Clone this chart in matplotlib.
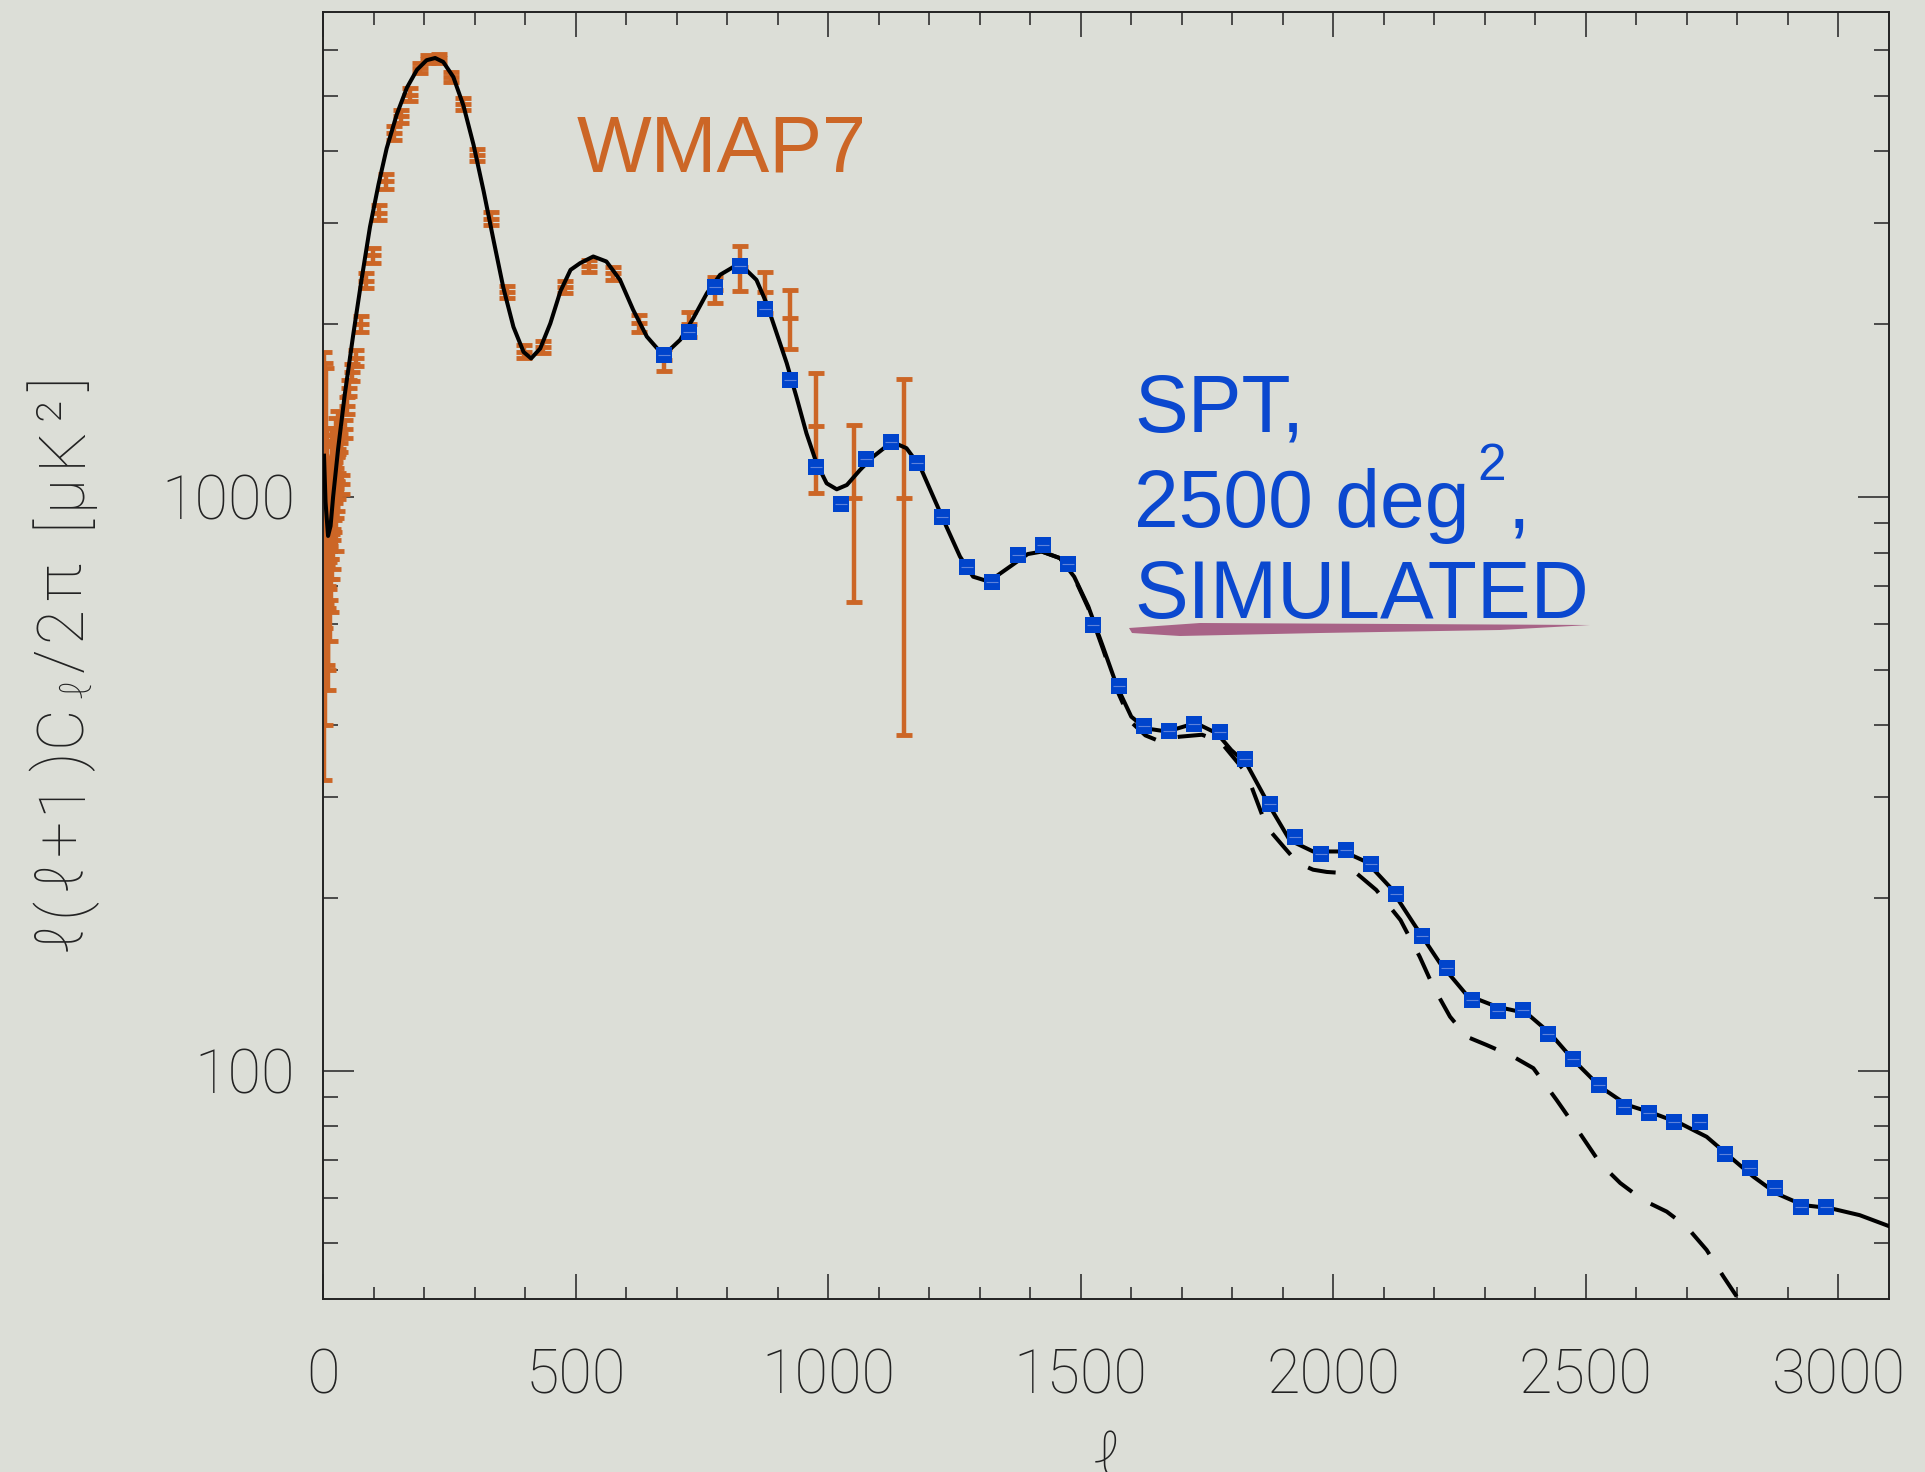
import matplotlib
matplotlib.use('Agg')
import matplotlib.pyplot as plt
from matplotlib import font_manager as fm
from matplotlib.ticker import FixedLocator, FixedFormatter, NullFormatter
from matplotlib.patches import Polygon

# ---- data ----
# theory curve (solid)
theory_ell = [2, 5, 10, 15, 20, 30, 43, 60, 76, 93, 110, 126, 146, 166, 186, 205, 222,
              238, 258, 278, 298, 318, 338, 357, 377, 397, 412, 430, 450, 470, 490, 509,
              535, 561, 588, 614, 641, 667, 680, 707, 733, 760, 786, 812, 832, 858, 878,
              898, 918, 937, 957, 977, 997, 1017, 1037, 1063, 1089, 1116, 1132, 1155,
              1182, 1208, 1234, 1261, 1287, 1318, 1360, 1395, 1423, 1459, 1487, 1515,
              1544, 1572, 1600, 1628, 1671, 1713, 1734, 1770, 1798, 1828, 1874, 1914,
              1960, 2020, 2066, 2112, 2158, 2211, 2264, 2323, 2383, 2429, 2475, 2528,
              2581, 2633, 2686, 2739, 2785, 2831, 2877, 2930, 2983, 3042, 3102]
theory_dl = [1180, 980, 855, 890, 1000, 1214, 1506, 1921, 2383, 2955, 3508, 4049, 4640,
             5164, 5551, 5768, 5820, 5729, 5393, 4808, 4108, 3410, 2790, 2315, 1978, 1789,
             1743, 1814, 2006, 2283, 2487, 2555, 2624, 2572, 2389, 2118, 1903, 1792, 1784,
             1878, 2048, 2265, 2438, 2515, 2515, 2389, 2176, 1929, 1710, 1496, 1291, 1145,
             1056, 1031, 1049, 1114, 1175, 1227, 1241, 1216, 1129, 1001, 888, 787, 726,
             712, 756, 795, 803, 782, 726, 644, 548, 467, 414, 395, 390, 400, 401, 387,
             362, 343, 289, 252, 241, 241, 231, 209, 181, 154, 135.5, 129.3, 125.9, 116.2,
             104.4, 93.8, 87.2, 84.3, 81.0, 76.7, 70.8, 65.4, 61.1, 58.3, 57.6, 56.0, 53.5]

# second model (dashed), only where it leaves the solid one
dashed_ell = [1423, 1459, 1487, 1515, 1544, 1572, 1600, 1628, 1650, 1696, 1740, 1776,
              1828, 1868, 1901, 1930, 1960, 1987, 2020, 2046, 2085, 2133, 2171, 2198,
              2231, 2264, 2303, 2356, 2396, 2442, 2488, 2528, 2568, 2613, 2660, 2699,
              2739, 2772, 2801, 2820]
dashed_dl = [803, 782, 724, 640, 543, 460, 405, 384, 377, 382, 385, 375, 330, 266, 246,
             230, 224, 222, 221, 220.8, 206.5, 183, 158, 140, 124.2, 114.6, 110.9, 105.8,
             101, 88.9, 77.8, 69.0, 63.7, 59.5, 56.8, 53.5, 48.7, 43.8, 40.1, 37]

# WMAP7 band powers
wmap_ell = [2, 3, 4, 5, 6, 7, 8, 9, 10, 11, 12, 13, 14, 15, 16, 17, 18, 19, 20, 21, 22,
            23, 24, 25, 26, 27, 28, 29, 30,
            33, 37, 43, 48, 52, 58, 65, 76, 86, 98, 111, 124, 141, 154, 172, 192, 207,
            229, 253, 278, 304, 332, 364, 397, 436, 479, 526, 575, 626, 676, 725, 776,
            825, 875, 924, 976, 1051, 1151]
wmap_dl = [1055, 1150, 820, 1320, 940, 760, 1080, 700, 640, 880, 950, 720, 820, 780, 930,
           1120, 860, 980, 880, 1040, 1000, 1150, 1100, 920, 1250, 1060, 1180, 1100, 1300,
           1241, 1052, 1314, 1442, 1549, 1650, 1749, 2004, 2383, 2636, 3127, 3548, 4315,
           4603, 5025, 5587, 5790, 5810, 5393, 4842, 3945, 3055, 2275, 1792, 1828, 2321,
           2527, 2455, 2008, 1733, 2000, 2297, 2513, 2280, 2053, 1331, 995, 995]
wmap_err = [734, 560, 420, 360, 290, 250, 240, 200, 180, 190, 180, 160, 160, 150, 150,
            160, 140, 140, 130, 130, 130, 130, 125, 115, 125, 115, 115, 110, 110,
            45, 40, 45, 50, 50, 55, 55, 65, 75, 80, 95, 105, 120, 125, 130, 110, 95,
            95, 110, 115, 100, 80, 55, 45, 45, 56, 61, 64, 68, 75, 100, 117,
            224, 190, 244, 315, 340, 610]

# SPT simulated band powers
spt_ell = [675, 725, 775, 825, 875, 925, 975, 1025, 1075, 1125, 1175, 1225, 1275, 1325,
           1375, 1425, 1475, 1525, 1575, 1625, 1675, 1725, 1775, 1825, 1875, 1925, 1975,
           2025, 2075, 2125, 2175, 2225, 2275, 2325, 2375, 2425, 2475, 2525, 2575, 2625,
           2675, 2725, 2775, 2825, 2875, 2925, 2975]
spt_dl = [1768, 1942, 2320, 2527, 2125, 1597, 1127, 970, 1164, 1248, 1147, 922, 756, 712,
          793, 825, 764, 598, 468, 398, 391, 402, 390, 349, 292, 255, 239, 242.5, 229, 203,
          172, 151, 133, 127, 127.6, 116, 105, 94.4, 86.4, 84.3, 81.5, 81.3, 71.6, 67.6,
          62.4, 57.9, 57.9]
spt_err = [52, 57, 68, 74, 62, 47, 33, 28, 34, 37, 34, 27, 22, 21, 23, 24, 22, 17.5, 13.7,
           11.7, 11.5, 11.8, 11.5, 10.3, 8.6, 7.5, 7.0, 7.1, 6.7, 6.0, 5.1, 4.4, 3.9, 3.7,
           3.8, 3.4, 3.1, 2.8, 2.5, 2.5, 2.4, 2.4, 2.1, 2.0, 1.8, 1.7, 1.7]

x_ticks = [0, 500, 1000, 1500, 2000, 2500, 3000]
y_ticks = [100, 1000]
y_minor = [50, 60, 70, 80, 90, 200, 300, 400, 500, 600, 700, 800, 900,
           2000, 3000, 4000, 5000, 6000]

orange = '#cc6626'
blue = '#0044cc'
text_blue = '#0b48cf'
paper = '#dcded7'
ink = '#222222'

# thin face for the axis lettering (Roboto Thin if present)
thin_family, thin_weight = 'DejaVu Sans', 'light'
for f in fm.fontManager.ttflist:
    if f.name == 'Roboto':
        try:
            w = int(f.weight)
        except (TypeError, ValueError):
            continue
        if w < 300:
            thin_family, thin_weight = 'Roboto', w

plt.rcParams['font.family'] = [thin_family, 'DejaVu Sans']
plt.rcParams['font.weight'] = thin_weight

W, H = 1925, 1472
fig = plt.figure(figsize=(W / 100, H / 100), dpi=100, facecolor=paper)
ax = fig.add_axes([323 / W, 1 - 1299 / H, (1889 - 323) / W, (1299 - 12) / H])
ax.set_facecolor(paper)

ax.errorbar(wmap_ell, wmap_dl, yerr=wmap_err, fmt='_', color=orange, ms=11, mew=3.5,
            elinewidth=3.2, capsize=5.5, capthick=3.6, zorder=2)
ax.plot(theory_ell, theory_dl, color='black', lw=2.9, zorder=3)
ax.plot(dashed_ell, dashed_dl, color='black', lw=2.9, dashes=(7, 5.5), zorder=3)
ax.errorbar(spt_ell, spt_dl, yerr=spt_err, fmt='s', color=blue, ms=11, mew=0,
            elinewidth=4.5, capsize=7, capthick=4.5, zorder=4)
ax.plot(spt_ell, spt_dl, '_', color='#5d82dc', ms=8, mew=0.8, zorder=5)

ax.set_yscale('log')
ax.set_xlim(0, 3100)
ax.set_ylim(40, 7000)
ax.xaxis.set_major_locator(FixedLocator(x_ticks))
ax.xaxis.set_major_formatter(FixedFormatter([str(t) for t in x_ticks]))
ax.xaxis.set_minor_locator(FixedLocator(list(range(100, 3100, 100))))
ax.yaxis.set_major_locator(FixedLocator(y_ticks))
ax.yaxis.set_major_formatter(FixedFormatter([str(t) for t in y_ticks]))
ax.yaxis.set_minor_locator(FixedLocator(y_minor))
ax.yaxis.set_minor_formatter(NullFormatter())

ax.tick_params(which='both', direction='in', top=True, right=True, width=1.1,
               color=ink, labelsize=44, labelcolor=ink)
ax.tick_params(axis='x', which='major', length=18, pad=35)
ax.tick_params(axis='x', which='minor', length=9)
ax.tick_params(axis='y', which='major', length=22, pad=20)
ax.tick_params(axis='y', which='minor', length=11)
for s in ax.spines.values():
    s.set_linewidth(1.4)
    s.set_color(ink)

# y title: characters set one by one, running upwards, loosely spaced
renderer = fig.canvas.get_renderer()
ylabel_chars = [('ℓ', 46, 0), ('(', 46, 0), ('ℓ', 46, 0), ('+', 46, 0), ('1', 46, 0),
                (')', 46, 0), ('C', 46, 0), ('ℓ', 31, 10), ('/', 46, 0), ('2', 46, 0),
                ('π', 46, 0), (' ', 0, 0), ('[', 46, 0), ('μ', 46, 0), ('K', 46, 0),
                ('²', 46, 0), (']', 46, 0)]
base_x, y_bottom, y_top = 80, H - 951, H - 377
pieces = []
for ch, size, drop in ylabel_chars:
    if ch == ' ':
        pieces.append((None, 22))
        continue
    t = fig.text(base_x + drop, 0, ch, transform=None, rotation=90,
                 rotation_mode='anchor', ha='left', va='baseline', size=size, color=ink)
    pieces.append((t, t.get_window_extent(renderer).height))
n_gaps = len(pieces) - 1
gap = (y_top - y_bottom - sum(h for _, h in pieces)) / n_gaps
y_pos = y_bottom
for t, h in pieces:
    if t is not None:
        x0, _ = t.get_position()
        t.set_position((x0, y_pos))
    y_pos += h + gap

# x title
fig.text(1107 / W, 1 - 1430 / H, 'ℓ', ha='center', va='top', size=44, color=ink)

# annotations
fig.text(577 / W, 1 - 171 / H, 'WMAP7', color=orange, family='Liberation Sans',
         weight='normal', size=57, va='baseline')
fig.text(1134 / W, 1 - 432 / H, 'SPT,', color=text_blue, family='Liberation Sans',
         weight='normal', size=58, va='baseline')
fig.text(1134 / W, 1 - 527 / H, '2500 deg', color=text_blue, family='Liberation Sans',
         weight='normal', size=58, va='baseline')
fig.text(1477 / W, 1 - 480 / H, '2', color=text_blue, family='Liberation Sans',
         weight='normal', size=37, va='baseline')
fig.text(1508 / W, 1 - 527 / H, ',', color=text_blue, family='Liberation Sans',
         weight='normal', size=58, va='baseline')
fig.text(1134 / W, 1 - 618 / H, 'SIMULATED', color=text_blue, family='Liberation Sans',
         weight='normal', size=58, va='baseline')

# brush-stroke underline
stroke = [(1129, 628), (1200, 623), (1400, 624), (1590, 625), (1500, 630),
          (1320, 633), (1180, 636), (1132, 633)]
fig.patches.append(Polygon([(x / W, 1 - y / H) for x, y in stroke], closed=True,
                           transform=fig.transFigure, facecolor='#a3567e',
                           edgecolor='none', alpha=0.9, figure=fig))

fig.savefig('out.png', dpi=100, facecolor=paper)
